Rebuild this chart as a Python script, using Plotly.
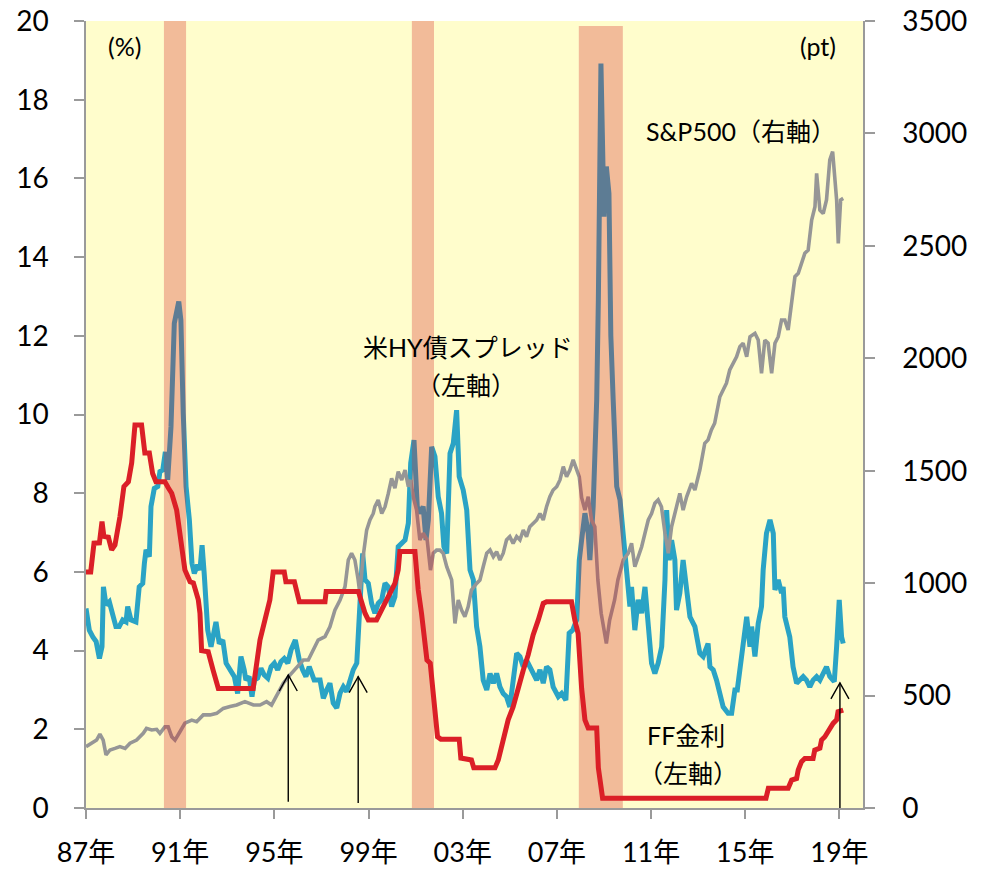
import plotly.graph_objects as go

# ---- US high-yield bond spread (%, left axis) ----
hy_year = [
    1987.00, 1987.14, 1987.29, 1987.43, 1987.57, 1987.68, 1987.74, 1987.85, 1987.99, 1988.13,
    1988.27, 1988.41, 1988.56, 1988.70, 1988.77, 1988.91, 1989.12, 1989.26, 1989.41, 1989.48,
    1989.55, 1989.69, 1989.76, 1989.90, 1990.05, 1990.14, 1990.26, 1990.37, 1990.47, 1990.61,
    1990.75, 1990.94, 1991.03, 1991.13, 1991.25, 1991.39, 1991.50, 1991.60, 1991.74, 1991.84,
    1991.93, 1992.02, 1992.17, 1992.31, 1992.52, 1992.66, 1992.81, 1992.95, 1993.09, 1993.30,
    1993.44, 1993.58, 1993.72, 1993.79, 1993.93, 1994.05, 1994.15, 1994.29, 1994.43, 1994.57,
    1994.72, 1994.86, 1995.00, 1995.14, 1995.28, 1995.42, 1995.57, 1995.71, 1995.89, 1996.06,
    1996.20, 1996.34, 1996.48, 1996.69, 1996.94, 1997.08, 1997.22, 1997.36, 1997.50, 1997.65,
    1997.79, 1997.93, 1998.07, 1998.21, 1998.35, 1998.50, 1998.61, 1998.75, 1998.85, 1998.99,
    1999.13, 1999.27, 1999.41, 1999.56, 1999.70, 1999.84, 1999.98, 2000.12, 2000.26, 2000.41,
    2000.55, 2000.69, 2000.79, 2000.93, 2001.07, 2001.18, 2001.32, 2001.44, 2001.54, 2001.68,
    2001.82, 2001.96, 2002.10, 2002.20, 2002.32, 2002.46, 2002.60, 2002.74, 2002.85, 2003.02,
    2003.17, 2003.31, 2003.45, 2003.59, 2003.73, 2003.87, 2004.02, 2004.16, 2004.30, 2004.44,
    2004.58, 2004.72, 2004.86, 2005.00, 2005.14, 2005.29, 2005.43, 2005.57, 2005.71, 2005.85,
    2005.99, 2006.14, 2006.28, 2006.42, 2006.56, 2006.70, 2006.84, 2007.06, 2007.20, 2007.38,
    2007.52, 2007.67, 2007.84, 2007.95, 2008.05, 2008.19, 2008.33, 2008.40, 2008.54, 2008.69,
    2008.76, 2008.87, 2009.00, 2009.10, 2009.21, 2009.29, 2009.39, 2009.46, 2009.54, 2009.68,
    2009.82, 2009.96, 2010.10, 2010.17, 2010.31, 2010.45, 2010.60, 2010.74, 2010.88, 2011.02,
    2011.16, 2011.30, 2011.45, 2011.59, 2011.66, 2011.77, 2011.87, 2012.01, 2012.08, 2012.22,
    2012.36, 2012.51, 2012.65, 2012.86, 2013.07, 2013.21, 2013.42, 2013.50, 2013.64, 2013.78,
    2013.92, 2014.06, 2014.27, 2014.42, 2014.56, 2014.66, 2014.77, 2014.91, 2015.06, 2015.20,
    2015.27, 2015.41, 2015.55, 2015.69, 2015.76, 2015.90, 2016.05, 2016.19, 2016.26, 2016.40,
    2016.54, 2016.61, 2016.68, 2016.89, 2017.03, 2017.18, 2017.32, 2017.46, 2017.60, 2017.74,
    2017.88, 2018.03, 2018.17, 2018.31, 2018.45, 2018.59, 2018.78, 2018.88, 2018.99, 2019.09,
    2019.16,
]
hy_spread = [
    5.07, 4.52, 4.35, 4.23, 3.80, 4.10, 5.62, 5.16, 5.24, 4.95,
    4.61, 4.61, 4.78, 4.73, 5.12, 4.78, 4.73, 5.62, 5.71, 6.22,
    6.56, 6.39, 7.66, 8.12, 8.17, 8.55, 8.59, 9.05, 8.34, 9.69,
    12.32, 12.87, 12.40, 10.03, 8.17, 7.32, 6.22, 5.96, 6.18, 6.05,
    6.68, 5.96, 4.52, 4.10, 4.73, 4.18, 4.27, 3.68, 3.55, 3.34,
    2.91, 3.85, 3.51, 3.25, 3.34, 2.83, 3.25, 3.30, 3.55, 3.38,
    3.30, 3.59, 3.68, 3.51, 3.72, 3.80, 3.68, 4.02, 4.27, 3.76,
    3.51, 3.34, 3.59, 3.25, 3.25, 2.79, 3.00, 3.17, 2.67, 2.54,
    2.92, 3.08, 2.96, 3.25, 3.51, 3.68, 5.00, 6.47, 5.80, 5.71,
    5.20, 4.95, 5.20, 5.29, 5.71, 5.62, 5.12, 5.37, 6.64, 6.73,
    6.81, 7.24, 8.76, 9.35, 7.66, 7.49, 7.66, 6.81, 7.32, 9.18,
    8.93, 7.91, 7.49, 6.64, 6.47, 9.01, 9.27, 10.11, 8.42, 8.08,
    7.57, 6.05, 5.80, 4.61, 4.10, 3.25, 3.00, 3.42, 3.17, 3.42,
    3.08, 2.91, 2.83, 2.57, 3.25, 3.93, 3.85, 3.59, 3.76, 3.59,
    3.42, 3.25, 3.51, 3.17, 3.59, 3.51, 3.08, 2.83, 2.91, 2.74,
    4.44, 4.52, 4.78, 6.30, 6.81, 7.49, 6.98, 6.30, 7.66, 10.37,
    12.90, 18.92, 15.03, 16.30, 15.62, 12.00, 10.37, 8.90, 8.17, 7.83,
    6.98, 5.96, 5.12, 5.62, 4.52, 5.29, 4.95, 5.62, 4.44, 3.68,
    3.42, 3.68, 4.10, 5.80, 7.57, 6.30, 6.81, 6.30, 5.03, 5.46,
    6.30, 5.40, 4.86, 4.61, 3.93, 3.85, 4.18, 3.59, 3.51, 3.25,
    2.83, 2.57, 2.41, 2.41, 3.00, 3.00, 3.51, 4.10, 4.86, 4.10,
    4.61, 3.85, 4.69, 5.12, 6.05, 6.98, 7.32, 6.98, 5.54, 5.80,
    5.46, 5.62, 4.86, 4.35, 3.59, 3.17, 3.25, 3.34, 3.25, 3.08,
    3.25, 3.34, 3.25, 3.42, 3.59, 3.34, 3.21, 4.10, 5.29, 4.35,
    4.18,
]

# ---- S&P500 (pt, right axis) ----
sp_year = [
    1987.00, 1987.24, 1987.45, 1987.59, 1987.73, 1987.85, 1988.02, 1988.23, 1988.44, 1988.66,
    1988.87, 1989.15, 1989.43, 1989.57, 1989.79, 1990.00, 1990.14, 1990.35, 1990.49, 1990.64,
    1990.78, 1990.99, 1991.20, 1991.49, 1991.70, 1991.98, 1992.27, 1992.55, 1992.83, 1993.12,
    1993.40, 1993.75, 1994.11, 1994.39, 1994.67, 1994.88, 1995.10, 1995.38, 1995.66, 1995.95,
    1996.23, 1996.44, 1996.66, 1996.86, 1997.15, 1997.36, 1997.57, 1997.79, 1998.00, 1998.14,
    1998.28, 1998.42, 1998.56, 1998.63, 1998.77, 1998.92, 1999.06, 1999.20, 1999.27, 1999.41,
    1999.56, 1999.70, 1999.84, 1999.98, 2000.12, 2000.26, 2000.41, 2000.55, 2000.69, 2000.79,
    2000.90, 2001.04, 2001.18, 2001.32, 2001.49, 2001.63, 2001.75, 2001.89, 2002.03, 2002.17,
    2002.32, 2002.53, 2002.67, 2002.81, 2002.95, 2003.09, 2003.23, 2003.37, 2003.59, 2003.73,
    2003.87, 2004.02, 2004.16, 2004.30, 2004.44, 2004.58, 2004.72, 2004.86, 2005.00, 2005.14,
    2005.29, 2005.43, 2005.57, 2005.71, 2005.85, 2005.99, 2006.14, 2006.28, 2006.42, 2006.56,
    2006.70, 2006.84, 2006.99, 2007.13, 2007.27, 2007.41, 2007.55, 2007.69, 2007.84, 2007.95,
    2008.05, 2008.19, 2008.33, 2008.47, 2008.61, 2008.74, 2008.88, 2009.10, 2009.24, 2009.45,
    2009.59, 2009.82, 2010.03, 2010.17, 2010.31, 2010.45, 2010.60, 2010.74, 2010.88, 2011.02,
    2011.16, 2011.30, 2011.44, 2011.59, 2011.73, 2011.87, 2012.08, 2012.22, 2012.36, 2012.51,
    2012.72, 2012.86, 2013.07, 2013.28, 2013.42, 2013.56, 2013.70, 2013.92, 2014.06, 2014.20,
    2014.34, 2014.48, 2014.63, 2014.77, 2014.91, 2015.06, 2015.20, 2015.41, 2015.55, 2015.69,
    2015.83, 2015.97, 2016.12, 2016.26, 2016.40, 2016.54, 2016.68, 2016.82, 2016.97, 2017.11,
    2017.25, 2017.39, 2017.53, 2017.67, 2017.82, 2017.96, 2018.03, 2018.17, 2018.31, 2018.45,
    2018.59, 2018.71, 2018.81, 2018.88, 2018.95, 2019.05, 2019.16,
]
sp500 = [
    273, 288, 302, 329, 302, 236, 258, 265, 273, 265,
    288, 302, 332, 354, 347, 350, 332, 361, 361, 317,
    302, 339, 377, 391, 384, 414, 414, 421, 443, 451,
    458, 473, 458, 458, 473, 458, 502, 555, 591, 628,
    658, 658, 703, 747, 762, 806, 880, 925, 984, 1103,
    1133, 1103, 1014, 955, 1118, 1236, 1281, 1310, 1340, 1370,
    1310, 1340, 1399, 1466, 1422, 1496, 1459, 1503, 1429, 1459,
    1384, 1325, 1192, 1222, 1192, 1058, 1133, 1147, 1147, 1133,
    1073, 1014, 821, 925, 880, 851, 895, 969, 999, 1014,
    1073, 1133, 1147, 1118, 1140, 1103, 1133, 1192, 1207, 1177,
    1207, 1192, 1236, 1207, 1251, 1266, 1281, 1310, 1281, 1340,
    1384, 1414, 1429, 1459, 1518, 1473, 1503, 1548, 1503, 1473,
    1380, 1325, 1384, 1281, 1251, 1014, 866, 732, 836, 925,
    1014, 1103, 1133, 1177, 1073, 1118, 1162, 1222, 1281, 1310,
    1355, 1370, 1340, 1222, 1133, 1251, 1340, 1399, 1325, 1384,
    1444, 1414, 1503, 1622, 1637, 1681, 1711, 1829, 1859, 1889,
    1948, 1978, 2007, 2052, 2067, 2007, 2096, 2111, 2081, 1933,
    2081, 2067, 1933, 2067, 2096, 2170, 2170, 2126, 2266, 2363,
    2378, 2422, 2467, 2481, 2615, 2674, 2822, 2659, 2644, 2704,
    2882, 2919, 2763, 2704, 2511, 2704, 2711,
]

# ---- Federal funds rate (%, left axis) ----
ff_year = [
    1987.00, 1987.20, 1987.34, 1987.57, 1987.68, 1987.76, 1987.95, 1988.09, 1988.23, 1988.44,
    1988.61, 1988.80, 1988.94, 1989.08, 1989.36, 1989.50, 1989.69, 1989.83, 1989.97, 1990.35,
    1990.50, 1990.64, 1990.85, 1991.06, 1991.20, 1991.42, 1991.56, 1991.77, 1991.84, 1991.91,
    1992.19, 1992.40, 1992.62, 1994.10, 1994.25, 1994.39, 1994.60, 1994.81, 1994.95, 1995.42,
    1995.49, 1995.85, 1996.06, 1997.15, 1997.20, 1998.57, 1998.85, 1998.99, 1999.34, 1999.48,
    1999.70, 1999.91, 2000.12, 2000.26, 2000.33, 2000.97, 2001.11, 2001.25, 2001.39, 2001.48,
    2001.62, 2001.72, 2001.82, 2001.93, 2002.07, 2002.85, 2002.92, 2003.37, 2003.47, 2004.37,
    2004.51, 2004.72, 2004.93, 2005.14, 2005.36, 2005.57, 2005.78, 2005.99, 2006.21, 2006.42,
    2006.56, 2007.62, 2007.76, 2007.90, 2008.05, 2008.19, 2008.33, 2008.69, 2008.76, 2008.94,
    2015.88, 2015.98, 2016.82, 2016.97, 2017.18, 2017.25, 2017.39, 2017.53, 2017.88, 2017.95,
    2018.17, 2018.24, 2018.38, 2018.52, 2018.59, 2018.73, 2018.88, 2018.94, 2019.16,
]
ff_rate = [
    6.00, 6.00, 6.73, 6.74, 7.28, 6.90, 6.88, 6.56, 6.68, 7.40,
    8.17, 8.29, 8.77, 9.73, 9.73, 9.02, 9.02, 8.50, 8.29, 8.29,
    8.13, 8.00, 7.57, 6.56, 6.05, 5.75, 5.72, 5.29, 4.95, 4.00,
    3.97, 3.50, 3.04, 3.04, 3.68, 4.27, 4.78, 5.29, 6.00, 6.00,
    5.75, 5.75, 5.24, 5.24, 5.50, 5.50, 4.95, 4.78, 4.78, 4.95,
    5.24, 5.46, 5.71, 6.05, 6.52, 6.52, 5.54, 4.95, 4.27, 3.76,
    3.68, 3.08, 2.41, 1.81, 1.75, 1.75, 1.27, 1.22, 1.02, 1.02,
    1.22, 1.73, 2.24, 2.57, 3.08, 3.50, 3.89, 4.40, 4.78, 5.20,
    5.24, 5.24, 4.78, 4.44, 3.04, 2.24, 2.03, 2.03, 1.02, 0.25,
    0.25, 0.50, 0.50, 0.71, 0.75, 0.97, 1.18, 1.26, 1.26, 1.47,
    1.52, 1.73, 1.81, 1.94, 2.03, 2.15, 2.24, 2.45, 2.49,
]

# ---- recession periods (shaded) ----
recession_start = [1990.31, 2000.84, 2007.93]
recession_end = [1991.25, 2001.78, 2009.80]
recession_top = [3500, 3500, 3478]

# ---- x-axis ticks ----
tick_years = [1987, 1991, 1995, 1999, 2003, 2007, 2011, 2015, 2019]
tick_labels = ["87年", "91年", "95年", "99年", "03年", "07年", "11年", "15年", "19年"]

# ---- arrows marking turning points ----
arrow_year = [1995.59, 1998.56, 2019.02]
arrow_tip = [3.38, 3.34, 3.18]
arrow_base = [0.16, 0.13, 0.0]

FONT = "Lato, 'Noto Sans CJK JP', sans-serif"
AXIS_COLOR = "#9A9A9A"

fig = go.Figure()

# spread line (drawn first so the recession shading tints it)
fig.add_trace(go.Scatter(
    x=hy_year, y=hy_spread, mode="lines", xaxis="x", yaxis="y",
    line=dict(color="#2AA3C5", width=5), hoverinfo="skip", showlegend=False,
))

# S&P500 on the right axis
fig.add_trace(go.Scatter(
    x=sp_year, y=sp500, mode="lines", xaxis="x", yaxis="y2",
    line=dict(color="#969696", width=3.6), hoverinfo="skip", showlegend=False,
))

# translucent recession bands over the spread and index lines
for x0, x1, top in zip(recession_start, recession_end, recession_top):
    fig.add_trace(go.Scatter(
        x=[x0, x0, x1, x1, x0], y=[0, top, top, 0, 0],
        mode="lines", fill="toself", fillcolor="rgba(212,36,35,0.30)",
        line=dict(width=0), xaxis="x", yaxis="y2",
        hoverinfo="skip", showlegend=False,
    ))

# FF rate on top of everything
fig.add_trace(go.Scatter(
    x=ff_year, y=ff_rate, mode="lines", xaxis="x", yaxis="y3",
    line=dict(color="#DB1F27", width=5), hoverinfo="skip", showlegend=False,
))

shapes = []
for xa, tip, base in zip(arrow_year, arrow_tip, arrow_base):
    shapes.append(dict(type="line", xref="x", yref="y", x0=xa, x1=xa, y0=base, y1=tip,
                       line=dict(color="black", width=1.4)))
    shapes.append(dict(type="path", xref="x", yref="y", xsizemode="pixel", ysizemode="pixel",
                       xanchor=xa, yanchor=tip, path="M-9,-16 L0,0 L9,-16",
                       line=dict(color="black", width=1.4)))

ann_font = dict(family=FONT, size=25, color="black")


def label(text, x, y):
    return dict(text=text, x=x, y=y, xref="paper", yref="paper", showarrow=False,
                xanchor="center", yanchor="middle", font=ann_font)


annotations = [
    label("(%)", 0.049, 0.968),
    label("(pt)", 0.942, 0.968),
    label("S&P500（右軸）", 0.843, 0.860),
    label("米HY債スプレッド", 0.492, 0.586),
    label("（左軸）", 0.489, 0.537),
    label("FF金利", 0.772, 0.093),
    label("（左軸）", 0.775, 0.044),
]

tick_font = dict(family=FONT, size=28, color="black")
x_tick_font = dict(family=FONT, size=27, color="black")

fig.update_layout(
    width=982, height=870,
    margin=dict(l=86, r=119, t=21, b=62),
    paper_bgcolor="white",
    plot_bgcolor="#FFFDCC",
    showlegend=False,
    font=dict(family=FONT),
    xaxis=dict(
        range=[1987, 2020], tickmode="array", tickvals=tick_years, ticktext=tick_labels,
        showgrid=False, zeroline=False, showline=True, linecolor=AXIS_COLOR, linewidth=1.5,
        ticks="outside", ticklen=9, tickwidth=1.5, tickcolor=AXIS_COLOR,
        tickfont=x_tick_font, ticklabelstandoff=11, automargin=False,
    ),
    yaxis=dict(
        range=[0, 20], dtick=2, showgrid=False, zeroline=False,
        showline=True, linecolor=AXIS_COLOR, linewidth=1.5,
        ticks="outside", ticklen=10, tickwidth=1.5, tickcolor=AXIS_COLOR,
        tickfont=tick_font, ticklabelstandoff=20, automargin=False,
    ),
    yaxis2=dict(
        range=[0, 3500], dtick=500, overlaying="y", side="right",
        showgrid=False, zeroline=False,
        showline=True, linecolor=AXIS_COLOR, linewidth=1.5,
        ticks="outside", ticklen=10, tickwidth=1.5, tickcolor=AXIS_COLOR,
        tickfont=tick_font, ticklabelstandoff=22, automargin=False,
    ),
    yaxis3=dict(range=[0, 20], overlaying="y", visible=False),
    shapes=shapes,
    annotations=annotations,
)

fig.write_html("out.html")
